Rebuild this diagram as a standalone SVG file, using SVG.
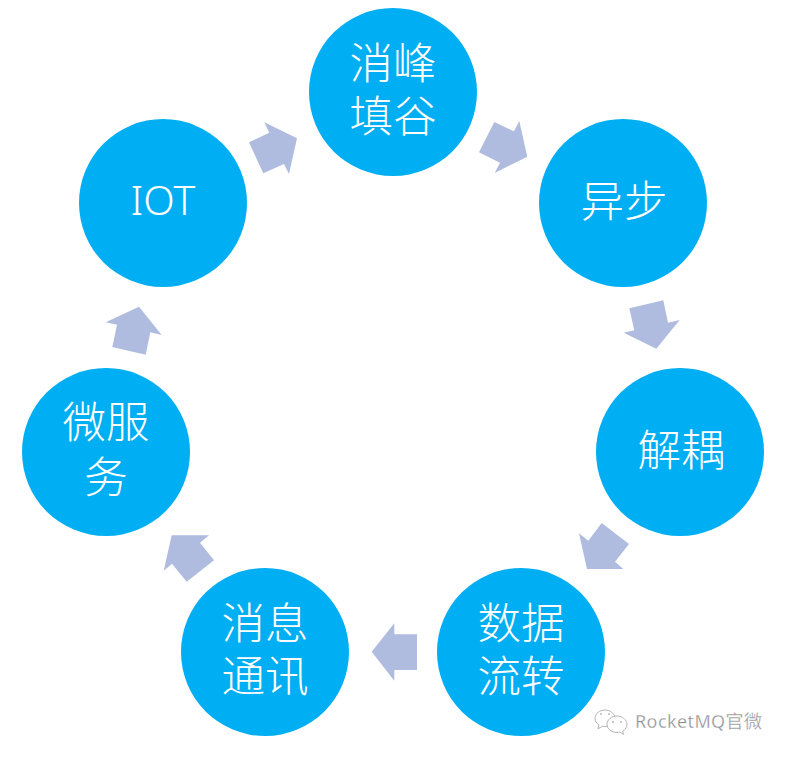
<svg xmlns="http://www.w3.org/2000/svg" width="788" height="758" viewBox="0 0 788 758">
<style>
.c{fill:#00aef3}
.t{fill:#fff;font-family:"Noto Sans CJK SC","Noto Sans",sans-serif;font-size:43.5px;font-weight:300;text-anchor:middle}
.a{fill:#b0bcdf}
.w{font-family:"Noto Sans","Noto Sans CJK SC",sans-serif;font-size:18px;letter-spacing:.4px;fill:#8f8f8f;stroke:#fff;stroke-width:.3}
.i{fill:#fff;stroke:#b5b5b5;stroke-width:1}
.e{fill:#b5b5b5}
</style>
<rect width="788" height="758" fill="#fff"/>
<g id="connectors">
<polygon class="a" points="249,142.3 269.3,132.7 264.3,122.3 297,138.3 289,174 284,164 263.3,173.3"/>
<polygon class="a" points="494.3,122 514,131.3 519.3,121 527.3,156.7 494.7,173 500,162.7 479,152.3"/>
<polygon class="a" points="629.3,308.3 663.3,300.3 668,322.7 679.7,320 656.3,348.7 623.7,332.7 634.3,330.3"/>
<polygon class="a" points="601.7,523 629,544 615,561.7 623.3,569 587,569 579,533.3 588.3,540.7"/>
<polygon class="a" points="371.7,651.7 394.3,623.3 394.3,634.3 417,634.3 417,670 394.3,670 394.3,680.7"/>
<polygon class="a" points="171.7,535.3 209,535.3 200,542.7 214,560.3 186.7,581.7 172,563.7 163.7,570.7"/>
<polygon class="a" points="139,306.7 161.7,335 150.3,332.3 145.7,354.7 112.3,347 117,324.7 105.7,322.3"/>
</g>
<g id="node-top"><circle class="c" cx="393" cy="92" r="84"/><text class="t" x="393" y="79">消峰</text><text class="t" x="393" y="132">填谷</text></g>
<g id="node-async"><circle class="c" cx="623" cy="203" r="84"/><text class="t" x="624" y="217">异步</text></g>
<g id="node-decouple"><circle class="c" cx="680" cy="452" r="84"/><text class="t" x="681" y="466">解耦</text></g>
<g id="node-data"><circle class="c" cx="521" cy="652" r="84"/><text class="t" x="521" y="639">数据</text><text class="t" x="521" y="692">流转</text></g>
<g id="node-msg"><circle class="c" cx="265" cy="652" r="84"/><text class="t" x="265" y="639">消息</text><text class="t" x="265" y="692">通讯</text></g>
<g id="node-micro"><circle class="c" cx="106" cy="452" r="84"/><text class="t" x="106" y="438">微服</text><text class="t" x="106" y="493">务</text></g>
<g id="node-iot"><circle class="c" cx="163" cy="203" r="84"/><text class="t" x="163" y="215" style="font-family:'Noto Sans',sans-serif;font-size:41px">IOT</text></g>
<g id="watermark">
<path class="i" d="M605 710c-5.500 0-10 3.700-10 8.300 0 2.700 1.500 5 4 6.500l-1 4 4.500-2.600c.8.200 1.600.3 2.500.3 5.500 0 10-3.800 10-8.200s-4.500-8.300-10-8.300z"/>
<path class="i" d="M617 716c-5.500 0-10 3.800-10 8.300s4.500 8.200 10 8.200c1 0 1.800-.1 2.700-.4l3.800 2.300-.8-3.500c2.700-1.500 4.300-3.900 4.300-6.600 0-4.500-4.500-8.300-10-8.300z"/>
<circle class="e" cx="601" cy="714" r=".9"/><circle class="e" cx="609" cy="714" r=".9"/>
<circle class="e" cx="613" cy="722" r=".9"/><circle class="e" cx="621" cy="722" r=".9"/>
<text class="w" x="635" y="728">RocketMQ官微</text>
</g>
</svg>
